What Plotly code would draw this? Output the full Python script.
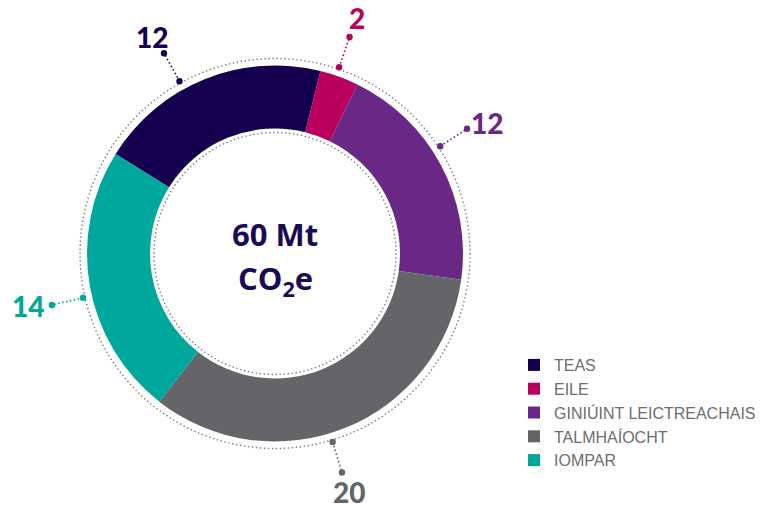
import math
import plotly.graph_objects as go

# ---- data ----
categories = ["TEAS", "EILE", "GINIÚINT LEICTREACHAIS", "TALMHAÍOCHT", "IOMPAR"]
values = [12, 2, 12, 20, 14]
unit = "Mt"
colors = ["#14004f", "#b8005c", "#6a2886", "#646569", "#00a79d"]

# ---- layout constants ----
W, H = 770, 505
CX, CY = 275, 253.5          # donut centre (px)
R_OUT, R_IN = 188, 125       # ring radii (px)
ROTATION = 302               # start angle of first slice (deg, clockwise from top)
label_nudge = [-7, -1, -5, 5, -3]   # degrees, cosmetic offsets for labels


def px(x):
    return x / W


def py(y):
    return 1 - y / H


def polar(r, ang):
    a = math.radians(ang)
    return CX + r * math.sin(a), CY - r * math.cos(a)


fig = go.Figure()
fig.add_trace(go.Pie(
    labels=categories,
    values=values,
    marker=dict(colors=colors, line=dict(width=0)),
    hole=R_IN / R_OUT,
    sort=False,
    direction="clockwise",
    rotation=ROTATION,
    textinfo="none",
    hoverinfo="label+value",
    domain=dict(x=[px(CX - R_OUT), px(CX + R_OUT)],
                y=[py(CY + R_OUT), py(CY - R_OUT)]),
))

shapes = []
annotations = []

# dotted guide circles
for r in (195, 121):
    shapes.append(dict(type="circle", xref="paper", yref="paper",
                       x0=px(CX - r), x1=px(CX + r), y0=py(CY + r), y1=py(CY - r),
                       line=dict(color="#7a7a7a", width=1.4, dash="1.4px,2.6px")))

total = sum(values)
cum = 0
for v, c, nud in zip(values, colors, label_nudge):
    mid = ROTATION + (cum + v / 2) / total * 360 + nud
    cum += v
    x1, y1 = polar(197, mid)
    x2, y2 = polar(229, mid)
    shapes.append(dict(type="line", xref="paper", yref="paper",
                       x0=px(x1), y0=py(y1), x1=px(x2), y1=py(y2),
                       line=dict(color=c, width=1.6, dash="1.6px,2.4px")))
    for (xx, yy) in ((x1, y1), (x2, y2)):
        d = 3.2
        shapes.append(dict(type="circle", xref="paper", yref="paper",
                           x0=px(xx - d), x1=px(xx + d), y0=py(yy + d), y1=py(yy - d),
                           fillcolor=c, line=dict(width=0)))
    a = math.radians(mid)
    s, co = math.sin(a), math.cos(a)
    tx = x2 + 24 * s
    ty = y2 - 21 * co * abs(co)
    annotations.append(dict(x=px(tx), y=py(ty), xref="paper", yref="paper",
                            text=str(v), showarrow=False,
                            xanchor="center", yanchor="middle",
                            font=dict(family="Lato", size=28, color=c, weight=900)))

annotations.append(dict(x=px(CX), y=py(CY - 19), xref="paper", yref="paper",
                        text=f"{total} {unit}", showarrow=False,
                        xanchor="center", yanchor="middle",
                        font=dict(family="Open Sans", size=31, color="#1a0b55", weight="bold")))
annotations.append(dict(x=px(CX), y=py(CY + 26), xref="paper", yref="paper",
                        text="CO<sub>2</sub>e", showarrow=False,
                        xanchor="center", yanchor="middle",
                        font=dict(family="Open Sans", size=31, color="#1a0b55", weight="bold")))

fig.update_layout(
    width=W, height=H,
    margin=dict(l=0, r=0, t=0, b=0),
    paper_bgcolor="white",
    plot_bgcolor="white",
    shapes=shapes,
    annotations=annotations,
    showlegend=True,
    legend=dict(x=px(514), y=py(348), xanchor="left", yanchor="top",
                font=dict(family="Liberation Sans", size=16, color="#6d6e71"),
                itemwidth=30, bgcolor="rgba(0,0,0,0)"),
)

fig.write_html("out.html", config={"displayModeBar": False},
               post_script="document.body.style.margin='0';document.body.style.padding='0';")
